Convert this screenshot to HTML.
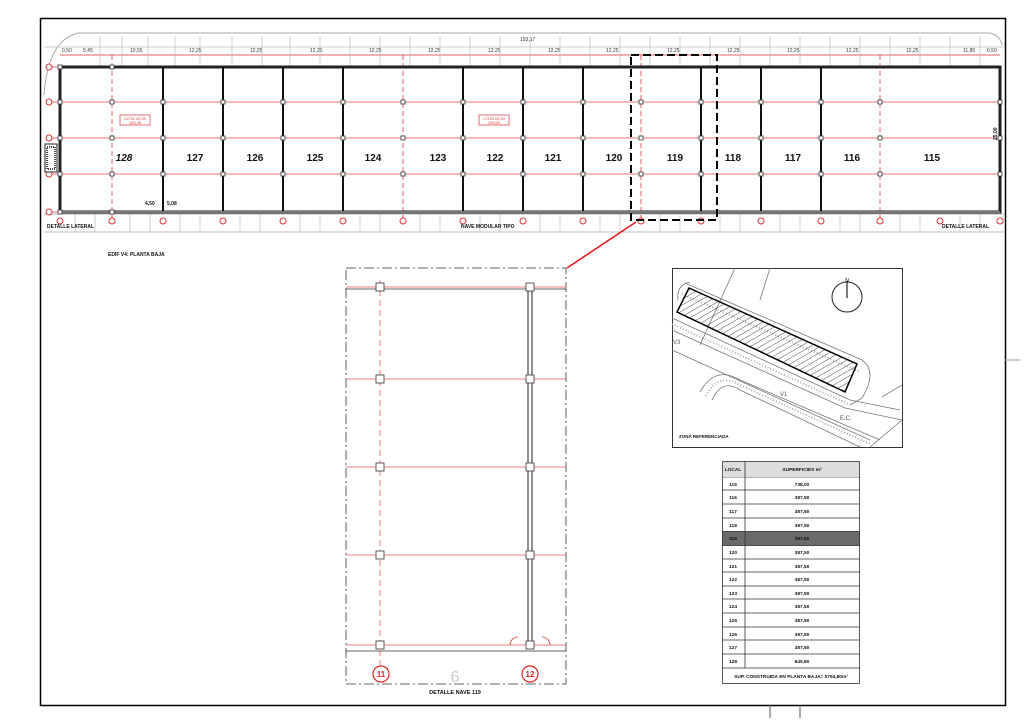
<!DOCTYPE html>
<html><head><meta charset="utf-8"><style>
html,body{margin:0;padding:0;background:#fff}
svg{display:block}
text{font-family:"Liberation Sans",sans-serif}
</style></head><body>
<svg width="1024" height="724" viewBox="0 0 1024 724" xmlns="http://www.w3.org/2000/svg">
<rect x="0" y="0" width="1024" height="724" fill="#fff"/>
<rect x="40.5" y="18.5" width="965" height="687" fill="none" stroke="#000" stroke-width="1.5"/>
<line x1="1005" y1="360" x2="1020" y2="360" stroke="#999" stroke-width="1"/>
<line x1="770" y1="705" x2="770" y2="718" stroke="#555"/>
<line x1="800" y1="705" x2="800" y2="718" stroke="#555"/>
<path d="M44 95 Q48 40 78 33 L990 33 Q1000 35 1002 45" fill="none" stroke="#aaa" stroke-width="1"/>
<line x1="44" y1="232" x2="1004" y2="232" stroke="#bbb"/>
<line x1="44" y1="214" x2="1004" y2="214" stroke="#bbb"/>
<line x1="44" y1="47" x2="1004" y2="47" stroke="#ccc"/>
<line x1="60" y1="55" x2="1000" y2="55" stroke="#d33" stroke-width="0.8"/>
<g font-size="5" fill="#333">
<text x="520" y="41">193,17</text>
<text x="62" y="52">0,50</text><text x="83" y="52">5,45</text><text x="130" y="52">10,55</text>
<text x="189" y="52">12,25</text><text x="250" y="52">12,25</text><text x="310" y="52">12,25</text><text x="369" y="52">12,25</text><text x="428" y="52">12,25</text><text x="488" y="52">12,25</text><text x="548" y="52">12,25</text><text x="606" y="52">12,25</text><text x="667" y="52">12,25</text><text x="727" y="52">12,25</text><text x="787" y="52">12,25</text><text x="846" y="52">12,25</text><text x="906" y="52">12,25</text><text x="963" y="52">11,85</text><text x="987" y="52">0,50</text>
</g>
<g stroke="#bbb" stroke-width="0.7">
<path d="M100 36V66M122 36V66M148 36V66M175 36V66M200 36V66M232 36V66M262 36V66M290 36V66M320 36V66M350 36V66M380 36V66M410 36V66M440 36V66M470 36V66M500 36V66M530 36V66M560 36V66M590 36V66M620 36V66M650 36V66M680 36V66M710 36V66M740 36V66M770 36V66M800 36V66M830 36V66M860 36V66M890 36V66M920 36V66M950 36V66M980 36V66"/>
<path d="M75 214V232M95 214V232M130 214V232M150 214V232M180 214V232M200 214V232M240 214V232M260 214V232M300 214V232M320 214V232M360 214V232M380 214V232M420 214V232M440 214V232M480 214V232M500 214V232M540 214V232M560 214V232M600 214V232M620 214V232M660 214V232M680 214V232M720 214V232M740 214V232M780 214V232M800 214V232M840 214V232M860 214V232M900 214V232M920 214V232M960 214V232M980 214V232"/>
</g>
<g stroke="#e04040" stroke-width="0.8">
<line x1="48" y1="67" x2="1000" y2="67"/>
<line x1="48" y1="102" x2="1000" y2="102"/>
<line x1="48" y1="138" x2="1000" y2="138"/>
<line x1="48" y1="174" x2="1000" y2="174"/>
<line x1="48" y1="212" x2="1000" y2="212"/>
</g>
<g stroke="#d33" stroke-width="0.8" stroke-dasharray="5,3">
<line x1="112" y1="55" x2="112" y2="222"/>
<line x1="403" y1="55" x2="403" y2="222"/>
<line x1="641" y1="55" x2="641" y2="222"/>
<line x1="880" y1="55" x2="880" y2="222"/>
</g>
<rect x="60" y="67" width="940" height="145" fill="none" stroke="#222" stroke-width="3"/>
<g stroke="#111" stroke-width="2">
<line x1="163" y1="67" x2="163" y2="212"/><line x1="223" y1="67" x2="223" y2="212"/>
<line x1="283" y1="67" x2="283" y2="212"/><line x1="343" y1="67" x2="343" y2="212"/>
<line x1="463" y1="67" x2="463" y2="212"/><line x1="523" y1="67" x2="523" y2="212"/>
<line x1="583" y1="67" x2="583" y2="212"/>
<line x1="701" y1="67" x2="701" y2="212"/><line x1="761" y1="67" x2="761" y2="212"/>
<line x1="821" y1="67" x2="821" y2="212"/>
</g>
<line x1="60" y1="212" x2="1000" y2="212" stroke="#777" stroke-width="2"/>
<g fill="#fff" stroke="#333" stroke-width="0.8">
<rect x="58" y="65" width="4" height="4"/><rect x="58" y="100" width="4" height="4"/><rect x="58" y="136" width="4" height="4"/><rect x="58" y="172" width="4" height="4"/><rect x="58" y="210" width="4" height="4"/>
<rect x="110" y="65" width="4" height="4"/><rect x="110" y="100" width="4" height="4"/><rect x="110" y="136" width="4" height="4"/><rect x="110" y="172" width="4" height="4"/><rect x="110" y="210" width="4" height="4"/>
<rect x="161" y="100" width="4" height="4"/><rect x="161" y="136" width="4" height="4"/><rect x="161" y="172" width="4" height="4"/>
<rect x="221" y="100" width="4" height="4"/><rect x="221" y="136" width="4" height="4"/><rect x="221" y="172" width="4" height="4"/>
<rect x="281" y="100" width="4" height="4"/><rect x="281" y="136" width="4" height="4"/><rect x="281" y="172" width="4" height="4"/>
<rect x="341" y="100" width="4" height="4"/><rect x="341" y="136" width="4" height="4"/><rect x="341" y="172" width="4" height="4"/>
<rect x="401" y="100" width="4" height="4"/><rect x="401" y="136" width="4" height="4"/><rect x="401" y="172" width="4" height="4"/>
<rect x="461" y="100" width="4" height="4"/><rect x="461" y="136" width="4" height="4"/><rect x="461" y="172" width="4" height="4"/>
<rect x="521" y="100" width="4" height="4"/><rect x="521" y="136" width="4" height="4"/><rect x="521" y="172" width="4" height="4"/>
<rect x="581" y="100" width="4" height="4"/><rect x="581" y="136" width="4" height="4"/><rect x="581" y="172" width="4" height="4"/>
<rect x="639" y="100" width="4" height="4"/><rect x="639" y="136" width="4" height="4"/><rect x="639" y="172" width="4" height="4"/>
<rect x="699" y="100" width="4" height="4"/><rect x="699" y="136" width="4" height="4"/><rect x="699" y="172" width="4" height="4"/>
<rect x="759" y="100" width="4" height="4"/><rect x="759" y="136" width="4" height="4"/><rect x="759" y="172" width="4" height="4"/>
<rect x="819" y="100" width="4" height="4"/><rect x="819" y="136" width="4" height="4"/><rect x="819" y="172" width="4" height="4"/>
<rect x="878" y="100" width="4" height="4"/><rect x="878" y="136" width="4" height="4"/><rect x="878" y="172" width="4" height="4"/>
<rect x="998" y="100" width="4" height="4"/><rect x="998" y="136" width="4" height="4"/><rect x="998" y="172" width="4" height="4"/>
</g>
<g fill="#fff" stroke="#d33" stroke-width="1">
<circle cx="49" cy="67" r="3"/><circle cx="49" cy="102" r="3"/><circle cx="49" cy="138" r="3"/><circle cx="49" cy="174" r="3"/><circle cx="49" cy="212" r="3"/>
<circle cx="60" cy="221" r="3"/><circle cx="112" cy="221" r="3"/><circle cx="163" cy="221" r="3"/><circle cx="223" cy="221" r="3"/><circle cx="283" cy="221" r="3"/><circle cx="343" cy="221" r="3"/><circle cx="403" cy="221" r="3"/><circle cx="463" cy="221" r="3"/><circle cx="523" cy="221" r="3"/><circle cx="583" cy="221" r="3"/><circle cx="641" cy="221" r="3"/><circle cx="701" cy="221" r="3"/><circle cx="761" cy="221" r="3"/><circle cx="821" cy="221" r="3"/><circle cx="880" cy="221" r="3"/><circle cx="940" cy="221" r="3"/><circle cx="1000" cy="221" r="3"/>
</g>
<rect x="45" y="144" width="12" height="28" fill="#fff" stroke="#222" stroke-width="1"/>
<rect x="47" y="147" width="8" height="22" fill="none" stroke="#444" stroke-width="2" stroke-dasharray="1,1"/>
<rect x="120" y="115" width="30" height="10" fill="none" stroke="#d33" stroke-width="0.7"/>
<text x="135" y="120" font-size="4" fill="#d33" text-anchor="middle">COTA ±0,00</text>
<text x="135" y="124" font-size="4" fill="#d33" text-anchor="middle">153,25</text>
<rect x="479" y="115" width="30" height="10" fill="none" stroke="#d33" stroke-width="0.7"/>
<text x="494" y="120" font-size="4" fill="#d33" text-anchor="middle">COTA ±0,00</text>
<text x="494" y="124" font-size="4" fill="#d33" text-anchor="middle">153,00</text>
<g font-size="10" fill="#111" text-anchor="middle" font-weight="bold">
<text x="124" y="161" font-style="italic">128</text>
<text x="195" y="161">127</text><text x="255" y="161">126</text><text x="315" y="161">125</text><text x="373" y="161">124</text><text x="438" y="161">123</text><text x="495" y="161">122</text><text x="553" y="161">121</text><text x="614" y="161">120</text><text x="675" y="161">119</text><text x="733" y="161">118</text><text x="793" y="161">117</text><text x="852" y="161">116</text><text x="932" y="161">115</text>
</g>
<g font-size="5" fill="#111" font-weight="bold">
<text x="145" y="205">4,50</text><text x="167" y="205">5,08</text>
<text x="47" y="228">DETALLE LATERAL</text>
<text x="461" y="228">NAVE MODULAR TIPO</text>
<text x="942" y="228">DETALLE LATERAL</text>
<text x="108" y="256">EDIF V4: PLANTA BAJA</text>
<text x="997" y="140" transform="rotate(-90 997 140)">25,00</text>
</g>
<rect x="631" y="55" width="86" height="165" fill="none" stroke="#000" stroke-width="2" stroke-dasharray="8,4"/>
<line x1="636" y1="222" x2="567" y2="268" stroke="#e11" stroke-width="1.5"/>
<rect x="346" y="268" width="220" height="416" fill="none" stroke="#333" stroke-width="0.8" stroke-dasharray="10,3,2,3"/>
<line x1="346" y1="289" x2="566" y2="289" stroke="#333" stroke-width="0.8"/>
<line x1="346" y1="651" x2="566" y2="651" stroke="#333" stroke-width="0.8"/>
<g stroke="#e55" stroke-width="0.8">
<line x1="346" y1="287" x2="566" y2="287"/><line x1="346" y1="379" x2="566" y2="379"/><line x1="346" y1="467" x2="566" y2="467"/><line x1="346" y1="555" x2="566" y2="555"/><line x1="346" y1="645" x2="566" y2="645"/>
</g>
<line x1="380" y1="280" x2="380" y2="665" stroke="#e55" stroke-width="0.8" stroke-dasharray="6,4"/>
<line x1="528" y1="287" x2="528" y2="645" stroke="#222" stroke-width="1"/>
<line x1="532" y1="287" x2="532" y2="645" stroke="#222" stroke-width="1"/>
<g fill="#fff" stroke="#333" stroke-width="0.8">
<rect x="376" y="283" width="8" height="8"/><rect x="376" y="375" width="8" height="8"/><rect x="376" y="463" width="8" height="8"/><rect x="376" y="551" width="8" height="8"/><rect x="376" y="641" width="8" height="8"/>
<rect x="526" y="283" width="8" height="8"/><rect x="526" y="375" width="8" height="8"/><rect x="526" y="463" width="8" height="8"/><rect x="526" y="551" width="8" height="8"/><rect x="526" y="641" width="8" height="8"/>
</g>
<path d="M510 645 A8 8 0 0 1 518 637 M550 645 A8 8 0 0 0 542 637" fill="none" stroke="#d33" stroke-width="0.8"/>
<text x="455" y="682" font-size="16" fill="#ccc" text-anchor="middle">6</text>
<circle cx="381" cy="674" r="8" fill="#fff" stroke="#d22" stroke-width="1.2"/>
<text x="381" y="677" font-size="8" font-weight="bold" fill="#d22" text-anchor="middle">11</text>
<circle cx="530" cy="674" r="8" fill="#fff" stroke="#d22" stroke-width="1.2"/>
<text x="530" y="677" font-size="8" font-weight="bold" fill="#d22" text-anchor="middle">12</text>
<text x="455" y="694" font-size="5.5" fill="#111" font-weight="bold" text-anchor="middle">DETALLE NAVE 119</text>
<rect x="672.5" y="268.5" width="230" height="179" fill="#fff" stroke="#333" stroke-width="1"/>
<g fill="none" stroke="#777" stroke-width="0.8">
<path d="M672 318 L850 400 L900 410"/>
<path d="M672 330 L845 408 L902 420"/>
<path d="M672 350 L760 390 L870 440"/>
<path d="M700 392 Q715 365 740 380 L880 440"/>
<path d="M712 400 Q722 378 740 390 L860 447"/>
<path d="M685 283 L862 360 Q878 372 862 398 L850 405"/>
<path d="M678 300 Q676 285 690 282"/>
<path d="M735 268 L700 345"/><path d="M770 268 L760 300"/>
<path d="M882 397 L902 385"/><path d="M870 447 L902 420"/>
</g>
<g fill="none" stroke="#aaa" stroke-width="2" stroke-dasharray="1,2">
<path d="M682 294 L860 372"/><path d="M672 324 L848 404"/><path d="M706 396 Q718 372 740 385 L870 444"/>
</g>
<defs><pattern id="h" width="5" height="5" patternUnits="userSpaceOnUse" patternTransform="rotate(60)"><line x1="0" y1="0" x2="0" y2="5" stroke="#222" stroke-width="0.8"/></pattern></defs>
<polygon points="689,288 857,364 845,392 677,312" fill="url(#h)" stroke="#000" stroke-width="1.5"/>
<circle cx="847" cy="297" r="15" fill="none" stroke="#222" stroke-width="1"/>
<line x1="847" y1="281" x2="847" y2="298" stroke="#222" stroke-width="1.2"/>
<text x="847" y="282" font-size="5" text-anchor="middle">N</text>
<g font-size="6" fill="#555"><text x="780" y="396">V1</text><text x="840" y="420">E.C.</text><text x="673" y="344">V3</text></g>
<text x="679" y="438" font-size="4.5" fill="#111" font-weight="bold">ZONA REFERENCIADA</text>
<g stroke="#333" stroke-width="0.8" fill="none">
<rect x="722.5" y="461.5" width="137" height="222"/>
<rect x="722.5" y="531.5" width="137" height="14" fill="#6a6a6a"/>
<line x1="745" y1="461" x2="745" y2="668"/>
<line x1="722" y1="477" x2="860" y2="477"/><line x1="722" y1="490" x2="860" y2="490"/><line x1="722" y1="504" x2="860" y2="504"/><line x1="722" y1="518" x2="860" y2="518"/><line x1="722" y1="586" x2="860" y2="586"/><line x1="722" y1="559" x2="860" y2="559"/><line x1="722" y1="572" x2="860" y2="572"/><line x1="722" y1="599" x2="860" y2="599"/><line x1="722" y1="613" x2="860" y2="613"/><line x1="722" y1="627" x2="860" y2="627"/><line x1="722" y1="640" x2="860" y2="640"/><line x1="722" y1="654" x2="860" y2="654"/><line x1="722" y1="668" x2="860" y2="668"/>
</g>
<rect x="723" y="462" width="136" height="15" fill="#ddd"/>
<line x1="745" y1="461" x2="745" y2="477" stroke="#333" stroke-width="0.8"/>
<g font-size="4.8" fill="#111" text-anchor="middle" font-weight="bold">
<text x="733" y="471">LOCAL</text><text x="802" y="471">SUPERFICIES m²</text>
<text x="733" y="486">115</text><text x="802" y="486">738,00</text>
<text x="733" y="499">116</text><text x="802" y="499">387,50</text>
<text x="733" y="513">117</text><text x="802" y="513">387,50</text>
<text x="733" y="527">118</text><text x="802" y="527">387,50</text>
<text x="733" y="540">119</text><text x="802" y="540">387,50</text>
<text x="733" y="554">120</text><text x="802" y="554">387,50</text>
<text x="733" y="568">121</text><text x="802" y="568">387,50</text>
<text x="733" y="581">122</text><text x="802" y="581">387,50</text>
<text x="733" y="595">123</text><text x="802" y="595">387,50</text>
<text x="733" y="608">124</text><text x="802" y="608">387,50</text>
<text x="733" y="622">125</text><text x="802" y="622">387,50</text>
<text x="733" y="636">126</text><text x="802" y="636">387,50</text>
<text x="733" y="649">127</text><text x="802" y="649">387,50</text>
<text x="733" y="663">128</text><text x="802" y="663">845,80</text>
<text x="791" y="678">SUP. CONSTRUIDA EN PLANTA BAJA= 5794,80m²</text>
</g>
</svg>
</body></html>
